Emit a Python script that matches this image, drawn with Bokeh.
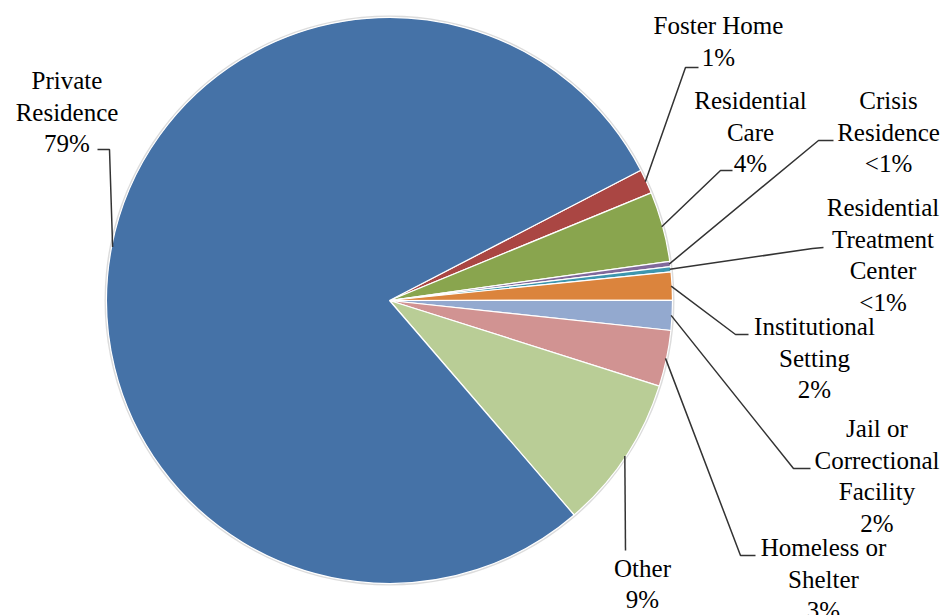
import numpy as np
from bokeh.plotting import figure
from bokeh.models import Range1d, ColumnDataSource, LabelSet
from bokeh.embed import file_html
from bokeh.resources import INLINE
from bokeh.core.properties import value

# ---------------- data ----------------
categories = ["Foster Home", "Residential Care", "Crisis Residence",
              "Residential Treatment Center", "Institutional Setting",
              "Jail or Correctional Facility", "Homeless or Shelter",
              "Other", "Private Residence"]
shares = [1.4, 4.0, 0.3, 0.3, 1.6, 1.7, 3.2, 8.8, 78.7]
label_texts = ["Foster Home\n1%", "Residential\nCare\n4%", "Crisis\nResidence\n<1%",
               "Residential\nTreatment\nCenter\n<1%", "Institutional\nSetting\n2%",
               "Jail or\nCorrectional\nFacility\n2%", "Homeless or\nShelter\n3%",
               "Other\n9%", "Private\nResidence\n79%"]

# ---------------- styles / layout ----------------
colors = ["#AA4643", "#89A54E", "#80699B", "#3D96AE", "#DB843D",
          "#93A9CF", "#D19392", "#B9CD96", "#4572A7"]
W, H = 947, 615
CX, CY, R = 389.0, 300.0, 283.0      # pixel coords from top-left
START_DEG = 27.4                      # first slice starts here, going clockwise
R_END = 282.0
LINE_SP = 31.5
label_pos = [(718, 41), (750, 131.5), (888, 131.5), (882.5, 254.5), (814, 357.5),
             (876.5, 475.5), (823, 578.5), (642, 583.3), (66.5, 111.5)]
leader_start = [(698, 67), (732, 170), (833, 140), (823, 247), (748, 334),
                (810, 468), (755, 555), (625, 550), (97, 149)]
leader_elbow = [(685, 67), (720, 170), (818, 140), (812, 248), (735, 334),
                (793, 468), (740, 555), (625, 550), (109, 149)]


def Y(y):
    return H - y


fr = np.array(shares, dtype=float) / np.sum(shares)
cum = np.concatenate([[0.0], np.cumsum(fr)]) * 2 * np.pi
a0 = np.deg2rad(START_DEG)
starts = a0 - cum[1:]
ends = a0 - cum[:-1]
mids = (starts + ends) / 2

src = ColumnDataSource(dict(cat=categories, start=starts, end=ends, color=colors))

p = figure(width=W, height=H, output_backend="svg", toolbar_location=None,
           x_range=Range1d(0, W), y_range=Range1d(0, H), min_border=0)
p.axis.visible = False
p.grid.visible = False
p.outline_line_color = None

# soft shadow rim
p.circle(x=[CX], y=[Y(CY)], radius=R + 2.0, radius_units="data",
         fill_color="#9a9a9a", fill_alpha=0.35, line_color=None)

p.wedge(x=CX, y=Y(CY), radius=R, start_angle="start", end_angle="end",
        fill_color="color", line_color="white", line_width=1.2, source=src)

# leader lines
xs, ys = [], []
for i, m in enumerate(mids):
    ex = CX + R_END * np.cos(m)
    ey = CY - R_END * np.sin(m)
    sx, sy = leader_start[i]
    bx, by = leader_elbow[i]
    xs.append([sx, bx, ex])
    ys.append([Y(sy), Y(by), Y(ey)])
p.multi_line(xs=xs, ys=ys, line_color="#333333", line_width=1.5)

# labels as a LabelSet (one entry per text line)
tx, ty, tt = [], [], []
for (lx, ly), lab in zip(label_pos, label_texts):
    lines = lab.split("\n")
    n = len(lines)
    for j, s in enumerate(lines):
        tx.append(lx)
        ty.append(Y(ly + (j - (n - 1) / 2) * LINE_SP))
        tt.append(s)
lsrc = ColumnDataSource(dict(x=tx, y=ty, text=tt))
labels = LabelSet(x="x", y="y", text="text", source=lsrc, level="overlay",
                  text_font=value("Liberation Serif"), text_font_size="25px",
                  text_align="center", text_baseline="middle", text_color="black")
p.add_layout(labels)

open("out.html", "w").write(file_html(p, INLINE))
